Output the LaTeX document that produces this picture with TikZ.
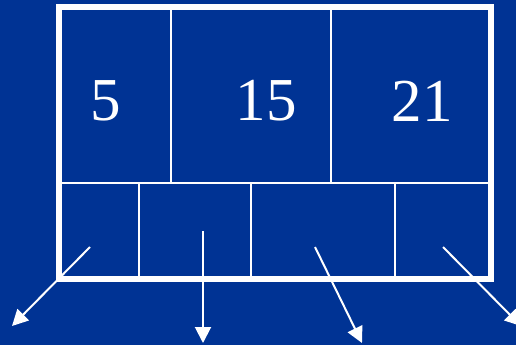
\documentclass[tikz,border=0pt]{standalone}
\usepackage{fontspec}
\setmainfont{Liberation Serif}
\usepackage{xcolor}
\usetikzlibrary{arrows.meta}
\definecolor{slideblue}{RGB}{0,51,148}

\begin{document}
\begin{tikzpicture}[x=1pt,y=-1pt,>={Triangle[length=16pt,width=16pt]},
  cell/.style={rectangle,draw=white,line width=2pt,anchor=north west,inner sep=0pt,outer sep=0pt},
  num/.style={text=white,inner sep=0pt,font=\fontsize{61}{61}\selectfont},
  ptr/.style={->,white,line width=2pt}]
  \fill[slideblue] (0,0) rectangle (516,345);
  \useasboundingbox (0,0) rectangle (516,345);
  % key row
  \node[cell,minimum width=112pt,minimum height=176pt] (k1) at (59,7) {};
  \node[cell,minimum width=160pt,minimum height=176pt] (k2) at (171,7) {};
  \node[cell,minimum width=160pt,minimum height=176pt] (k3) at (331,7) {};
  % pointer row
  \node[cell,minimum width=80pt,minimum height=96pt] (p0) at (59,183) {};
  \node[cell,minimum width=112pt,minimum height=96pt] (p1) at (139,183) {};
  \node[cell,minimum width=144pt,minimum height=96pt] (p2) at (251,183) {};
  \node[cell,minimum width=96pt,minimum height=96pt] (p3) at (395,183) {};
  \draw[white,line width=6pt] (59,7) rectangle (491,279);
  \node[num] (n1) at (106,101) {5};
  \node[num] (n2) at (266,101) {15};
  \node[num] (n3) at (422,101) {21};
  \coordinate (s0) at (90,247);
  \coordinate (s1) at (203,231);
  \coordinate (s2) at (315,247);
  \coordinate (s3) at (443,247);
  \coordinate (e0) at (12,326);
  \coordinate (e1) at (203,343);
  \coordinate (e2) at (362,343);
  \coordinate (e3) at (521,326);
  \draw[ptr] (s0) -- (e0);
  \draw[ptr] (s1) -- (e1);
  \draw[ptr] (s2) -- (e2);
  \draw[ptr] (s3) -- (e3);
\end{tikzpicture}
\end{document}
